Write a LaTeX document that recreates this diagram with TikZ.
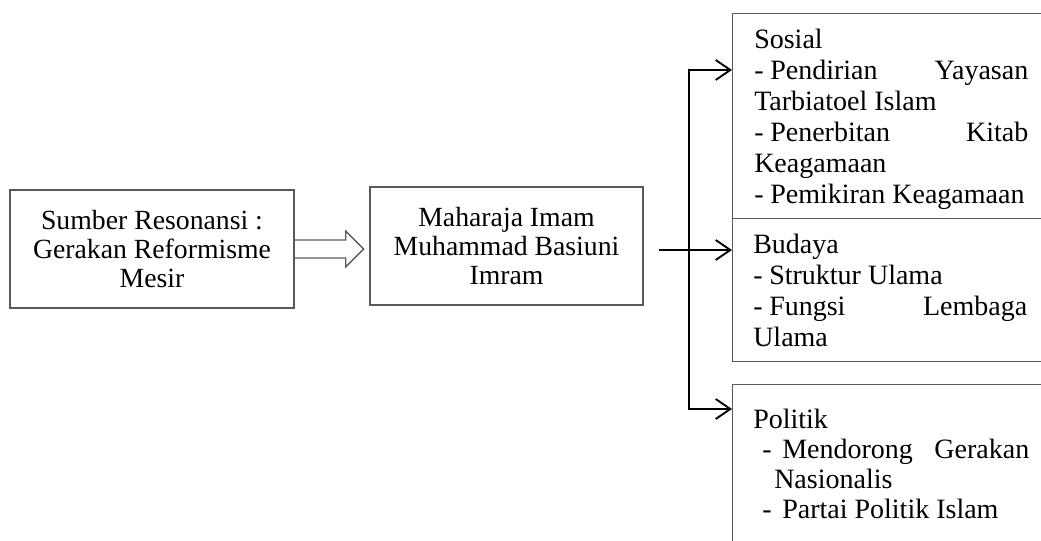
\documentclass[tikz,border=0pt]{standalone}
\usepackage{fontspec}
\setmainfont{Liberation Serif}
\usetikzlibrary{arrows.meta,calc}
\begin{document}
\begin{tikzpicture}[x=0.75pt,y=-0.75pt,
  cbox/.style={draw=black!65,line width=1pt,align=center,inner sep=0pt,font=\fontsize{20.8}{21.75}\selectfont},
  rbox/.style={draw=black!65,line width=1pt,inner sep=0pt,anchor=north west},
  rtext/.style={anchor=north west,inner sep=0pt,align=left,font=\fontsize{21}{23.25}\selectfont},
  dblarrow/.style={draw=black!65,line width=1pt},
  arr/.style={-{Straight Barb[length=11pt,width=15pt,line width=1.4pt]},line width=1.4pt},
  conn/.style={line width=1.4pt}]
\useasboundingbox (0,0) rectangle (1041,541);
\clip (0,0) rectangle (1041,541);
% central boxes
\node[cbox,minimum width=213pt,minimum height=88.5pt] (src) at (152,249) {Sumber Resonansi :\\Gerakan Reformisme\\Mesir};
\node[cbox,minimum width=204.75pt,minimum height=88.5pt] (mid) at (506.5,246) {Maharaja Imam\\Muhammad Basiuni\\Imram};
% hollow arrow
\draw[dblarrow] ($(src.east)+(0,-9)$) -- ++(51,0) -- ++(0,-9) -- ++(18,18) -- ++(-18,18) -- ++(0,-9) -- ($(src.east)+(0,9)$);
% right boxes
\node[rbox,minimum width=300pt,minimum height=153.75pt] (sosbox) at (732,13) {};
\node[rbox,minimum width=300pt,minimum height=107.25pt] (budbox) at (732,218) {};
\node[rbox,minimum width=300pt,minimum height=150pt] (polbox) at (732,384) {};
% texts
\node[rtext] (sostext) at (754,29) {Sosial\\\hbox to 205.5pt{-\hspace{5pt}Pendirian\hfill Yayasan}\\Tarbiatoel Islam\\\hbox to 205.5pt{-\hspace{5pt}Penerbitan\hfill Kitab}\\Keagamaan\\-\hspace{5pt}Pemikiran Keagamaan};
\node[rtext] (budtext) at (753,234) {Budaya\\-\hspace{5pt}Struktur Ulama\\\hbox to 205.5pt{-\hspace{5pt}Fungsi\hfill Lembaga}\\Ulama};
\node[rtext,font=\fontsize{21}{22.5}\selectfont] (poltext) at (753,409) {Politik\\\hbox to 207pt{\hspace*{6.75pt}\makebox[15pt][l]{-}Mendorong\hfill Gerakan}\\\hspace*{15.75pt}Nasionalis\\\hspace*{6.75pt}\makebox[15pt][l]{-}Partai Politik Islam};
% connectors
\coordinate (j) at (689,250);
\coordinate (js) at (689,70);
\coordinate (jp) at (689,409);
\draw[arr] ($(mid.east |- j)+(15,0)$) -- (budbox.west |- j);
\draw[arr] (jp) -- (js) -- (sosbox.west |- js);
\draw[arr] (js) -- (jp) -- (polbox.west |- jp);
\end{tikzpicture}
\end{document}
